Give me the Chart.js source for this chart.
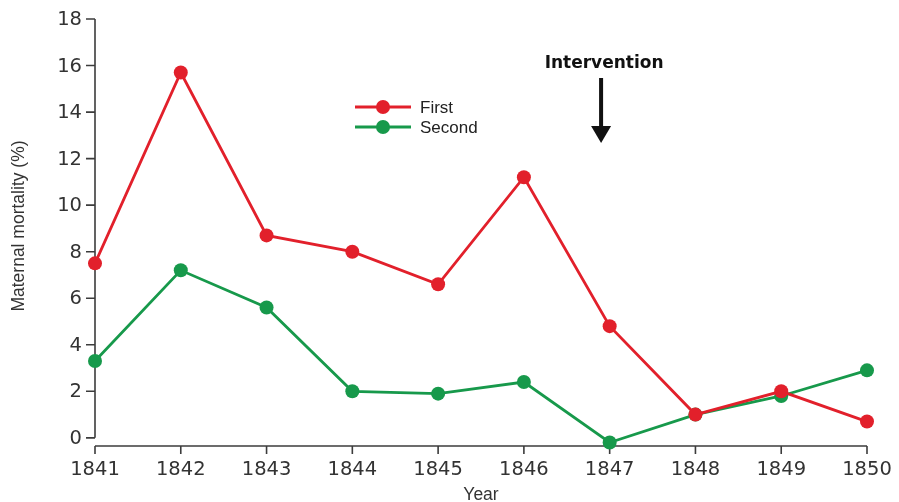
<!DOCTYPE html>
<html lang="en">
<head>
  <meta charset="UTF-8" />
  <title>Maternal mortality</title>
  <style>
    html, body { margin: 0; padding: 0; background: #fff; }
    #wrap { width: 899px; height: 502px; }
  </style>
</head>
<body>
  <div id="wrap"><canvas id="mortalityChart" width="899" height="502"></canvas></div>

  <script src="https://cdn.jsdelivr.net/npm/chart.js@4"></script>
  <script>
    const years = [1841, 1842, 1843, 1844, 1845, 1846, 1847, 1848, 1849, 1850];
    const firstClinic = [7.5, 15.7, 8.7, 8.0, 6.6, 11.2, 4.8, 1.0, 2.0, 0.7];
    const secondClinic = [3.3, 7.2, 5.6, 2.0, 1.9, 2.4, -0.2, 1.0, 1.8, 2.9];
    const yTicks = [0, 2, 4, 6, 8, 10, 12, 14, 16, 18];
    const xTicks = years;
    const seriesNames = ['First', 'Second'];
    const interventionYear = 1846.9;

    const RED = '#e2202b';
    const GREEN = '#17994b';
    const AXIS = '#3c3c3c';

    // ejes, leyenda y anotación dibujados a mano con las escalas del gráfico
    const decor = {
      id: 'decor',
      beforeDatasetsDraw(chart) {
        const { ctx, scales: { x, y }, chartArea } = chart;
        const x0 = x.getPixelForValue(xTicks[0]);
        const x1 = x.getPixelForValue(xTicks[xTicks.length - 1]);
        const yTop = y.getPixelForValue(yTicks[yTicks.length - 1]);
        const yZero = y.getPixelForValue(yTicks[0]);
        const yBase = chartArea.bottom;

        ctx.save();
        ctx.strokeStyle = AXIS;
        ctx.lineWidth = 1.6;
        ctx.fillStyle = '#333';

        // eje Y
        ctx.beginPath();
        ctx.moveTo(x0, yTop);
        ctx.lineTo(x0, yZero);
        yTicks.forEach(v => {
          const py = y.getPixelForValue(v);
          ctx.moveTo(x0 - 9, py);
          ctx.lineTo(x0, py);
        });
        // eje X
        ctx.moveTo(x0, yBase);
        ctx.lineTo(x1, yBase);
        xTicks.forEach(v => {
          const px = x.getPixelForValue(v);
          ctx.moveTo(px, yBase);
          ctx.lineTo(px, yBase + 8);
        });
        ctx.stroke();

        ctx.font = '19.5px "DejaVu Sans"';
        ctx.textAlign = 'right';
        ctx.textBaseline = 'middle';
        yTicks.forEach(v => ctx.fillText(String(v), x0 - 13, y.getPixelForValue(v) + 1));

        ctx.textAlign = 'center';
        ctx.textBaseline = 'alphabetic';
        xTicks.forEach(v => ctx.fillText(String(v), x.getPixelForValue(v), yBase + 29));

        // títulos de ejes
        ctx.font = '17.5px "Liberation Sans"';
        ctx.fillText('Year', (x0 + x1) / 2, 500);
        ctx.save();
        ctx.translate(19, 226);
        ctx.rotate(-Math.PI / 2);
        ctx.textBaseline = 'middle';
        ctx.fillText('Maternal mortality (%)', 0, 0);
        ctx.restore();

        // leyenda
        const colors = [RED, GREEN];
        ctx.font = '17px "Liberation Sans"';
        ctx.textAlign = 'left';
        ctx.textBaseline = 'middle';
        seriesNames.forEach((name, i) => {
          const ly = 107 + i * 20;
          ctx.strokeStyle = colors[i];
          ctx.lineWidth = 2.8;
          ctx.beginPath();
          ctx.moveTo(355, ly);
          ctx.lineTo(411, ly);
          ctx.stroke();
          ctx.fillStyle = colors[i];
          ctx.beginPath();
          ctx.arc(383, ly, 7, 0, Math.PI * 2);
          ctx.fill();
          ctx.fillStyle = '#222';
          ctx.fillText(name, 420, ly + 1);
        });

        // intervención
        const ax = x.getPixelForValue(interventionYear);
        ctx.fillStyle = '#111';
        ctx.font = 'bold 17px "DejaVu Sans"';
        ctx.textAlign = 'center';
        ctx.fillText('Intervention', ax + 3, 64);
        ctx.fillRect(ax - 2, 78, 4, 50);
        ctx.beginPath();
        ctx.moveTo(ax - 10, 126);
        ctx.lineTo(ax + 10, 126);
        ctx.lineTo(ax, 143);
        ctx.closePath();
        ctx.fill();
        ctx.restore();
      }
    };

    const makeSet = (label, data, color) => ({
      label,
      data: data.map((v, i) => ({ x: years[i], y: v })),
      borderColor: color,
      backgroundColor: color,
      borderWidth: 2.8,
      pointRadius: 7,
      pointBorderWidth: 0,
      pointBackgroundColor: color,
      tension: 0,
      clip: false
    });

    new Chart(document.getElementById('mortalityChart'), {
      type: 'line',
      data: {
        datasets: [
          makeSet(seriesNames[0], firstClinic, RED),
          makeSet(seriesNames[1], secondClinic, GREEN)
        ]
      },
      options: {
        responsive: false,
        animation: false,
        layout: { padding: { left: 95, right: 32, top: 19, bottom: 56 } },
        scales: {
          x: { type: 'linear', min: 1841, max: 1850, display: false },
          y: { type: 'linear', min: -0.35, max: 18, display: false }
        },
        plugins: {
          legend: { display: false },
          tooltip: { enabled: false }
        }
      },
      plugins: [decor]
    });
  </script>
</body>
</html>
